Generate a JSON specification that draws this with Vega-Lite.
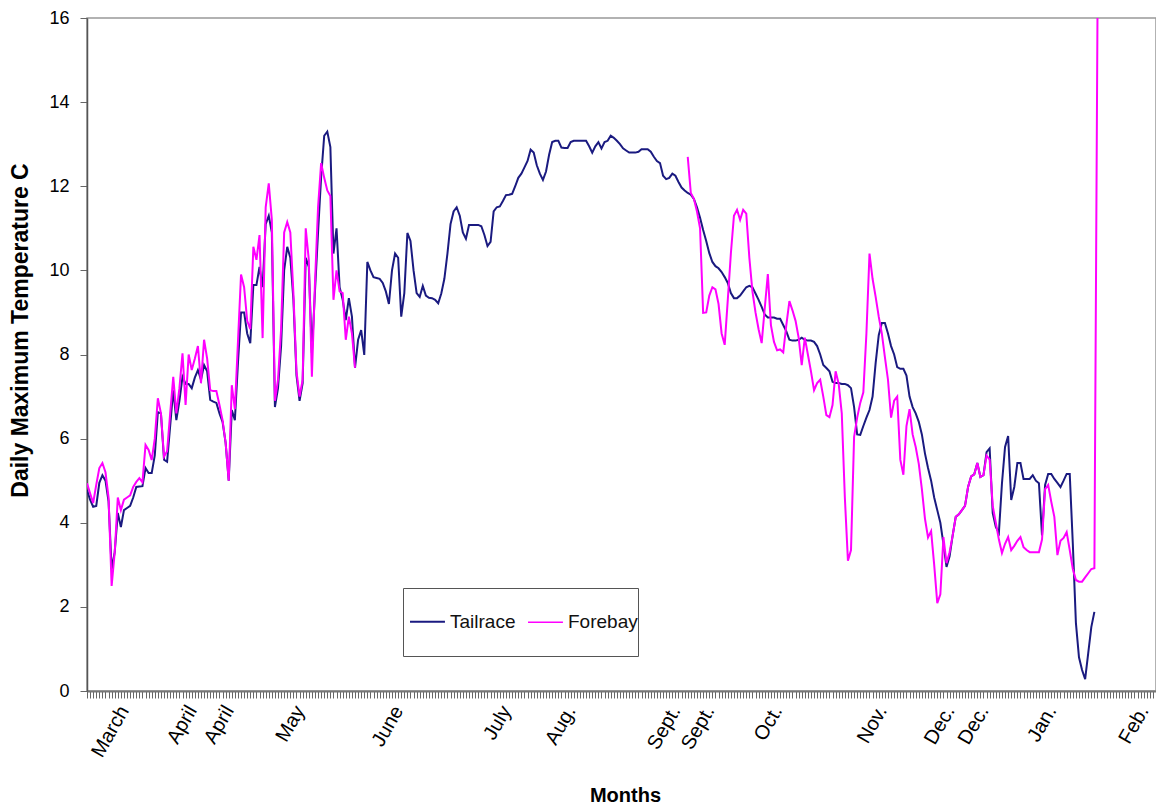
{
  "$schema": "https://vega.github.io/schema/vega-lite/v6.json",
  "width": 1069,
  "height": 673,
  "autosize": {"type": "none"},
  "padding": {"left": 87, "top": 18, "right": 0, "bottom": 115},
  "background": "white",
  "config": {
    "font": "Liberation Sans",
    "view": {"stroke": "#999999", "strokeWidth": 1.5}
  },
  "data": {
    "values": [
      {"d":0,"T":4.78,"F":4.94},{"d":1,"T":4.55,"F":4.7},{"d":2,"T":4.38,"F":4.47},{"d":3,"T":4.4,"F":4.9},{"d":4,"T":4.95,"F":5.3},
      {"d":5,"T":5.13,"F":5.42},{"d":6,"T":5.0,"F":5.2},{"d":7,"T":4.5,"F":4.6},{"d":8,"T":2.9,"F":2.5},{"d":9,"T":3.3,"F":3.3},
      {"d":10,"T":4.23,"F":4.6},{"d":11,"T":3.9,"F":4.3},{"d":12,"T":4.3,"F":4.55},{"d":13,"T":4.35,"F":4.6},{"d":14,"T":4.4,"F":4.65},
      {"d":15,"T":4.6,"F":4.85},{"d":16,"T":4.85,"F":4.97},{"d":17,"T":4.86,"F":5.06},{"d":18,"T":4.87,"F":4.96},{"d":19,"T":5.3,"F":5.85},
      {"d":20,"T":5.18,"F":5.73},{"d":21,"T":5.18,"F":5.49},{"d":22,"T":5.6,"F":6.0},{"d":23,"T":6.63,"F":6.96},{"d":24,"T":6.6,"F":6.6},
      {"d":25,"T":5.5,"F":5.57},{"d":26,"T":5.45,"F":5.7},{"d":27,"T":6.3,"F":6.6},{"d":28,"T":7.15,"F":7.47},{"d":29,"T":6.44,"F":6.6},
      {"d":30,"T":6.9,"F":7.2},{"d":31,"T":7.47,"F":8.03},{"d":32,"T":7.3,"F":6.8},{"d":33,"T":7.3,"F":8.0},{"d":34,"T":7.2,"F":7.63},
      {"d":35,"T":7.45,"F":7.9},{"d":36,"T":7.63,"F":8.2},{"d":37,"T":7.4,"F":7.32},{"d":38,"T":7.75,"F":8.35},{"d":39,"T":7.6,"F":7.9},
      {"d":40,"T":6.92,"F":7.15},{"d":41,"T":6.88,"F":7.13},{"d":42,"T":6.85,"F":7.13},{"d":43,"T":6.6,"F":6.8},{"d":44,"T":6.4,"F":6.44},
      {"d":45,"T":5.9,"F":5.9},{"d":46,"T":5.0,"F":5.0},{"d":47,"T":6.68,"F":7.27},{"d":48,"T":6.44,"F":6.7},{"d":49,"T":7.8,"F":8.3},
      {"d":50,"T":9.0,"F":9.9},{"d":51,"T":9.0,"F":9.6},{"d":52,"T":8.5,"F":8.8},{"d":53,"T":8.27,"F":8.6},{"d":54,"T":9.65,"F":10.56},
      {"d":55,"T":9.65,"F":10.25},{"d":56,"T":10.08,"F":10.84},{"d":57,"T":9.6,"F":8.39},{"d":58,"T":11.1,"F":11.5},{"d":59,"T":11.3,"F":12.07},
      {"d":60,"T":10.9,"F":11.2},{"d":61,"T":6.75,"F":6.9},{"d":62,"T":7.2,"F":7.4},{"d":63,"T":8.2,"F":8.6},{"d":64,"T":10.0,"F":10.9},
      {"d":65,"T":10.56,"F":11.15},{"d":66,"T":10.3,"F":10.9},{"d":67,"T":9.3,"F":9.46},{"d":68,"T":7.5,"F":7.6},{"d":69,"T":6.9,"F":7.0},
      {"d":70,"T":7.32,"F":7.4},{"d":71,"T":10.3,"F":11.0},{"d":72,"T":10.08,"F":10.25},{"d":73,"T":8.03,"F":7.47},{"d":74,"T":9.5,"F":9.7},
      {"d":75,"T":10.9,"F":11.5},{"d":76,"T":12.22,"F":12.55},{"d":77,"T":13.2,"F":12.2},{"d":78,"T":13.3,"F":11.9},{"d":79,"T":12.93,"F":11.77},
      {"d":80,"T":10.4,"F":9.3},{"d":81,"T":11.0,"F":10.0},{"d":82,"T":9.6,"F":9.5},{"d":83,"T":9.3,"F":9.46},{"d":84,"T":8.82,"F":8.35},
      {"d":85,"T":9.34,"F":8.9},{"d":86,"T":8.9,"F":8.5},{"d":87,"T":7.68,"F":7.68},
      {"d":88,"T":8.35},{"d":89,"T":8.58},{"d":90,"T":7.99},{"d":91,"T":10.2},{"d":92,"T":10.0},{"d":93,"T":9.84},{"d":94,"T":9.82},
      {"d":95,"T":9.8},{"d":96,"T":9.7},{"d":97,"T":9.5},{"d":98,"T":9.2},{"d":99,"T":10.0},{"d":100,"T":10.4},{"d":101,"T":10.3},
      {"d":102,"T":8.9},{"d":103,"T":9.46},{"d":104,"T":10.89},{"d":105,"T":10.7},{"d":106,"T":10.0},{"d":107,"T":9.46},{"d":108,"T":9.37},
      {"d":109,"T":9.63},{"d":110,"T":9.4},{"d":111,"T":9.35},{"d":112,"T":9.34},{"d":113,"T":9.3},{"d":114,"T":9.22},{"d":115,"T":9.45},
      {"d":116,"T":9.8},{"d":117,"T":10.4},{"d":118,"T":11.1},{"d":119,"T":11.4},{"d":120,"T":11.5},{"d":121,"T":11.3},{"d":122,"T":10.9},
      {"d":123,"T":10.75},{"d":124,"T":11.08},{"d":125,"T":11.08},{"d":126,"T":11.08},{"d":127,"T":11.08},{"d":128,"T":11.05},{"d":129,"T":10.84},
      {"d":130,"T":10.58},{"d":131,"T":10.68},{"d":132,"T":11.4},{"d":133,"T":11.5},{"d":134,"T":11.52},{"d":135,"T":11.65},{"d":136,"T":11.79},
      {"d":137,"T":11.8},{"d":138,"T":11.82},{"d":139,"T":12.0},{"d":140,"T":12.2},{"d":141,"T":12.3},{"d":142,"T":12.45},{"d":143,"T":12.6},
      {"d":144,"T":12.87},{"d":145,"T":12.8},{"d":146,"T":12.5},{"d":147,"T":12.3},{"d":148,"T":12.15},{"d":149,"T":12.35},{"d":150,"T":12.75},
      {"d":151,"T":13.05},{"d":152,"T":13.08},{"d":153,"T":13.08},{"d":154,"T":12.92},{"d":155,"T":12.91},{"d":156,"T":12.91},{"d":157,"T":13.05},
      {"d":158,"T":13.08},{"d":159,"T":13.08},{"d":160,"T":13.08},{"d":161,"T":13.08},{"d":162,"T":13.08},{"d":163,"T":12.95},{"d":164,"T":12.8},
      {"d":165,"T":12.95},{"d":166,"T":13.05},{"d":167,"T":12.9},{"d":168,"T":13.05},{"d":169,"T":13.08},{"d":170,"T":13.2},{"d":171,"T":13.15},
      {"d":172,"T":13.08},{"d":173,"T":13.0},{"d":174,"T":12.9},{"d":175,"T":12.85},{"d":176,"T":12.8},{"d":177,"T":12.8},{"d":178,"T":12.8},
      {"d":179,"T":12.82},{"d":180,"T":12.88},{"d":181,"T":12.88},{"d":182,"T":12.88},{"d":183,"T":12.82},{"d":184,"T":12.7},{"d":185,"T":12.6},
      {"d":186,"T":12.55},{"d":187,"T":12.25},{"d":188,"T":12.17},{"d":189,"T":12.2},{"d":190,"T":12.3},{"d":191,"T":12.25},{"d":192,"T":12.1},
      {"d":193,"T":11.97},{"d":194,"T":11.9},
      {"d":195,"T":11.84,"F":12.7},{"d":196,"T":11.8,"F":11.84},{"d":197,"T":11.7,"F":11.7},{"d":198,"T":11.5,"F":11.4},{"d":199,"T":11.25,"F":11.0},
      {"d":200,"T":10.96,"F":8.99},{"d":201,"T":10.7,"F":9.0},{"d":202,"T":10.41,"F":9.4},{"d":203,"T":10.2,"F":9.6},{"d":204,"T":10.1,"F":9.55},
      {"d":205,"T":10.05,"F":9.2},{"d":206,"T":9.96,"F":8.5},{"d":207,"T":9.84,"F":8.23},{"d":208,"T":9.7,"F":9.3},{"d":209,"T":9.46,"F":10.4},
      {"d":210,"T":9.34,"F":11.3},{"d":211,"T":9.34,"F":11.44},{"d":212,"T":9.4,"F":11.2},{"d":213,"T":9.5,"F":11.44},{"d":214,"T":9.6,"F":11.35},
      {"d":215,"T":9.63,"F":10.3},{"d":216,"T":9.6,"F":9.5},{"d":217,"T":9.45,"F":9.0},{"d":218,"T":9.3,"F":8.6},{"d":219,"T":9.13,"F":8.27},
      {"d":220,"T":8.95,"F":9.1},{"d":221,"T":8.88,"F":9.91},{"d":222,"T":8.88,"F":8.7},{"d":223,"T":8.88,"F":8.3},{"d":224,"T":8.85,"F":8.1},
      {"d":225,"T":8.85,"F":8.12},{"d":226,"T":8.7,"F":8.05},{"d":227,"T":8.55,"F":8.7},{"d":228,"T":8.35,"F":9.27},{"d":229,"T":8.33,"F":9.05},
      {"d":230,"T":8.33,"F":8.8},{"d":231,"T":8.35,"F":8.4},{"d":232,"T":8.4,"F":7.75},{"d":233,"T":8.35,"F":8.4},{"d":234,"T":8.33,"F":8.0},
      {"d":235,"T":8.33,"F":7.6},{"d":236,"T":8.3,"F":7.15},{"d":237,"T":8.2,"F":7.32},{"d":238,"T":8.0,"F":7.4},{"d":239,"T":7.75,"F":7.0},
      {"d":240,"T":7.68,"F":6.56},{"d":241,"T":7.6,"F":6.51},{"d":242,"T":7.35,"F":6.8},{"d":243,"T":7.32,"F":7.6},{"d":244,"T":7.32,"F":7.3},
      {"d":245,"T":7.3,"F":6.6},{"d":246,"T":7.3,"F":4.6},{"d":247,"T":7.27,"F":3.1},{"d":248,"T":7.2,"F":3.35},{"d":249,"T":6.75,"F":6.04},
      {"d":250,"T":6.1,"F":6.5},{"d":251,"T":6.09,"F":6.85},{"d":252,"T":6.3,"F":7.1},{"d":253,"T":6.5,"F":8.5},{"d":254,"T":6.68,"F":10.4},
      {"d":255,"T":7.0,"F":9.8},{"d":256,"T":7.8,"F":9.37},{"d":257,"T":8.46,"F":8.9},{"d":258,"T":8.75,"F":8.5},{"d":259,"T":8.75,"F":7.94},
      {"d":260,"T":8.5,"F":7.4},{"d":261,"T":8.2,"F":6.5},{"d":262,"T":8.0,"F":6.9},{"d":263,"T":7.7,"F":7.0},{"d":264,"T":7.66,"F":5.5},
      {"d":265,"T":7.66,"F":5.14},{"d":266,"T":7.5,"F":6.3},{"d":267,"T":7.0,"F":6.7},{"d":268,"T":6.75,"F":6.1},{"d":269,"T":6.6,"F":5.8},
      {"d":270,"T":6.4,"F":5.4},{"d":271,"T":6.1,"F":4.8},{"d":272,"T":5.65,"F":4.1},{"d":273,"T":5.3,"F":3.65},{"d":274,"T":5.0,"F":3.8},
      {"d":275,"T":4.6,"F":3.0},{"d":276,"T":4.3,"F":2.09},{"d":277,"T":4.0,"F":2.3},{"d":278,"T":3.5,"F":3.66},{"d":279,"T":2.95,"F":3.04},
      {"d":280,"T":3.2,"F":3.3},{"d":281,"T":3.7,"F":3.7},{"d":282,"T":4.14,"F":4.14},{"d":283,"T":4.2,"F":4.2},{"d":284,"T":4.3,"F":4.3},
      {"d":285,"T":4.4,"F":4.4},{"d":286,"T":4.85,"F":4.85},{"d":287,"T":5.1,"F":5.1},{"d":288,"T":5.15,"F":5.15},{"d":289,"T":5.42,"F":5.42},
      {"d":290,"T":5.09,"F":5.09},{"d":291,"T":5.13,"F":5.13},{"d":292,"T":5.68,"F":5.6},{"d":293,"T":5.77,"F":5.5},{"d":294,"T":4.23,"F":4.4},
      {"d":295,"T":3.9,"F":4.0},{"d":296,"T":3.76,"F":3.6},{"d":297,"T":4.94,"F":3.28},{"d":298,"T":5.8,"F":3.5},{"d":299,"T":6.06,"F":3.66},
      {"d":300,"T":4.54,"F":3.35},{"d":301,"T":4.85,"F":3.45},{"d":302,"T":5.42,"F":3.57},{"d":303,"T":5.42,"F":3.66},{"d":304,"T":5.04,"F":3.42},
      {"d":305,"T":5.04,"F":3.35},{"d":306,"T":5.04,"F":3.3},{"d":307,"T":5.13,"F":3.3},{"d":308,"T":5.0,"F":3.3},{"d":309,"T":4.94,"F":3.3},
      {"d":310,"T":3.7,"F":3.6},{"d":311,"T":4.9,"F":4.8},{"d":312,"T":5.16,"F":4.9},{"d":313,"T":5.16,"F":4.5},{"d":314,"T":5.04,"F":4.14},
      {"d":315,"T":4.95,"F":3.23},{"d":316,"T":4.85,"F":3.57},{"d":317,"T":5.0,"F":3.64},{"d":318,"T":5.16,"F":3.78},{"d":319,"T":5.16,"F":3.35},
      {"d":320,"T":3.5,"F":2.9},{"d":321,"T":1.62,"F":2.64},{"d":322,"T":0.8,"F":2.6},{"d":323,"T":0.5,"F":2.6},{"d":324,"T":0.28,"F":2.7},
      {"d":325,"T":0.9,"F":2.8},{"d":326,"T":1.52,"F":2.9},{"d":327,"T":1.88,"F":2.92},{"d":328,"F":16}
    ]
  },
  "transform": [
    {"fold": ["T", "F"], "as": ["key", "temp"]},
    {"lookup": "key", "from": {"data": {"values": [{"key": "T", "series": "Tailrace", "ord": 0}, {"key": "F", "series": "Forebay", "ord": 1}]}, "key": "key", "fields": ["series", "ord"]}}
  ],
  "mark": {"type": "line", "invalid": "break-paths-filter-domains", "strokeWidth": 2, "clip": true},
  "encoding": {
    "x": {
      "field": "d",
      "type": "quantitative",
      "scale": {"domain": [0, 347], "nice": false, "zero": false},
      "axis": {
        "title": "Months",
        "titleFontSize": 20,
        "titleFontWeight": "bold",
        "titleColor": "black",
        "titleX": 538,
        "titleY": 104,
        "titleBaseline": "middle",
        "tickCount": 347,
        "tickSize": 7,
        "tickColor": "#666666",
        "domainColor": "#777777",
        "domainWidth": 2,
        "grid": false,
        "labelAngle": -60,
        "labelAlign": "right",
        "labelBaseline": "middle",
        "labelPadding": 9,
        "labelFontSize": 20,
        "labelColor": "black",
        "labelOverlap": false,
        "labelBound": false,
        "labelFlush": false,
        "labelExpr": "indexof([12,34,46,69,101,136,157,191,202,224,258,280,291,313,343], datum.value) >= 0 ? ['March','April','April','May','June','July','Aug.','Sept.','Sept.','Oct.','Nov.','Dec.','Dec.','Jan.','Feb.'][indexof([12,34,46,69,101,136,157,191,202,224,258,280,291,313,343], datum.value)] : ''"
      }
    },
    "y": {
      "field": "temp",
      "type": "quantitative",
      "scale": {"domain": [0, 16], "nice": false},
      "axis": {
        "title": "Daily Maximum Temperature C",
        "titleFontSize": 23,
        "titleFontWeight": "bold",
        "titleColor": "black",
        "titleX": -67,
        "titleY": 312,
        "titleAngle": -90,
        "titleAlign": "center",
        "titleBaseline": "middle",
        "values": [0, 2, 4, 6, 8, 10, 12, 14, 16],
        "tickSize": 7,
        "tickColor": "#666666",
        "domainColor": "#555555",
        "domainWidth": 1.5,
        "grid": false,
        "labelFontSize": 18,
        "labelColor": "black",
        "labelPadding": 11
      }
    },
    "color": {
      "field": "series",
      "type": "nominal",
      "scale": {"domain": ["Tailrace", "Forebay"], "range": ["#1a1a80", "#ff00ff"]},
      "legend": {
        "title": null,
        "orient": "none",
        "legendX": 316,
        "legendY": 570,
        "direction": "horizontal",
        "symbolType": "M-1.03,-0.92M-1.03,0.92M-0.815,0L0.26,0",
        "symbolSize": 4225,
        "symbolStrokeWidth": 2,
        "symbolFillColor": "transparent",
        "labelFontSize": 19,
        "labelColor": "#111111",
        "labelOffset": -20,
        "columnPadding": 2,
        "padding": 0,
        "strokeColor": "#555555",
        "fillColor": "white"
      }
    },
    "order": {"field": "ord", "type": "quantitative"},
    "strokeWidth": {"field": "series", "type": "nominal", "scale": {"domain": ["Tailrace", "Forebay"], "range": [2, 1.5]}, "legend": null}
  }
}
